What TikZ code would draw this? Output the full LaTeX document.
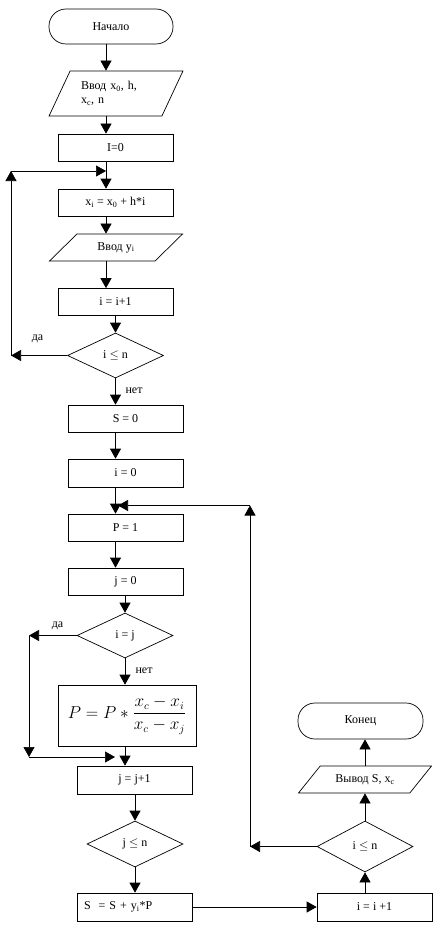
\documentclass[tikz,border=0pt]{standalone}
\usepackage{amsmath}
\usepackage{fontspec}
\setmainfont{Liberation Serif}
\usetikzlibrary{arrows.meta,shapes.geometric}

\begin{document}
\begin{tikzpicture}[x=1pt,y=-1pt,line width=0.7pt,font=\fontsize{12}{14}\selectfont]
					\tikzstyle{term}=[draw,rectangle,rounded corners=17pt,minimum width=124pt,minimum height=35pt,inner sep=2pt]
					\tikzstyle{block}=[draw,rectangle,minimum width=115pt,minimum height=27pt,inner sep=2pt]
					\tikzstyle{io}=[draw,trapezium,trapezium left angle=45,trapezium right angle=135,trapezium stretches=true,minimum width=134pt,minimum height=27pt,inner sep=2pt]
					\tikzstyle{cond}=[draw,diamond,aspect=2,minimum width=96pt,minimum height=45pt,inner sep=0pt]
					\tikzstyle{arr}=[-{Triangle[length=10pt,width=11pt]}]
					\tikzstyle{lbl}=[inner sep=0pt]
					\useasboundingbox (0,0) rectangle (439,931);
					\node[term] (1) at (111,26.5) {Начало};
					\node[io,trapezium left angle=59,trapezium right angle=121,minimum height=45pt,text width=70pt,align=left] (2) at (116,93.5) {Ввод x\textsubscript{0}, h,\\x\textsubscript{c}, n};
					\node[block] (3) at (115.5,147.5) {I=0};
					\node[block] (4) at (115.5,202.5) {x\textsubscript{i} = x\textsubscript{0} + h*i};
					\node[io] (5) at (116,247.5) {Ввод y\textsubscript{i}};
					\node[block] (6) at (115.5,302) {i = i+1};
					\node[cond] (7) at (115.5,355.5) {i $\le$ n};
					\node[block] (8) at (125.5,418.5) {S = 0};
					\node[block,minimum height=28pt] (9) at (125.5,473) {i = 0};
					\node[block] (10) at (125.5,527.5) {P = 1};
					\node[block] (11) at (125.5,581.5) {j = 0};
					\node[cond] (12) at (125,635.5) {i = j};
					\node[block,minimum width=138pt,minimum height=61pt] (13) at (127,715.5) {\fontsize{16}{19}\selectfont $P = P*\dfrac{x_c - x_i}{x_c - x_j}$};
					\node[block,minimum height=28pt] (14) at (134.5,780) {j = j+1};
					\node[cond,minimum height=46pt] (15) at (135,844) {j $\le$ n};
					\node[block,minimum height=28pt,text width=101pt,align=left] (16) at (134.5,907) {S\ \ = S + y\textsubscript{i}*P};
					\node[block,minimum height=28pt] (17) at (374.5,907) {i = i +1};
					\node[cond,minimum height=51pt] (18) at (365,846.5) {i $\le$ n};
					\node[io,trapezium left angle=43,trapezium right angle=137] (19) at (365,779.5) {Вывод S, x\textsubscript{c}};
					\node[term,minimum width=125pt,minimum height=36pt] (20) at (360.5,721) {Конец};
					\node[lbl] (21) at (37.5,338.5) {да};
					\node[lbl] (22) at (134,391) {нет};
					\node[lbl] (23) at (57.5,626) {да};
					\node[lbl] (24) at (144,671) {нет};
					\coordinate (a) at (106,0);
					\coordinate (c) at (125,0);
					\coordinate (p1) at (11,355.5);
					\coordinate (p2) at (11,171);
					\coordinate (p3) at (106,171);
					\coordinate (q1) at (29,635.5);
					\coordinate (q2) at (29,757);
					\coordinate (q3) at (115,757);
					\coordinate (r1) at (250,846.5);
					\coordinate (r2) at (250,505.5);
					\coordinate (r3) at (118,505.5);
					\draw[arr] (1.south -| a) -- (2.north -| a);
					\draw[arr] (2.south -| a) -- (3.north -| a);
					\draw[arr] (3.south -| a) -- (4.north -| a);
					\draw[arr] (4.south -| a) -- (5.north -| a);
					\draw[arr] (5.south -| a) -- (6.north -| a);
					\draw[arr] (6.south -| 7.north) -- (7.north);
					\draw[arr] (7.south) -- (8.north -| 7.south);
					\draw[arr] (8.south -| 7.south) -- (9.north -| 7.south);
					\draw[arr] (9.south -| 7.south) -- (10.north -| 7.south);
					\draw[arr] (10.south -| 7.south) -- (11.north -| 7.south);
					\draw[arr] (11.south -| 12.north) -- (12.north);
					\draw[arr] (12.south) -- (13.north -| 12.south);
					\draw[arr] (13.south -| c) -- (14.north -| c);
					\draw[arr] (14.south -| 15.north) -- (15.north);
					\draw[arr] (15.south) -- (16.north -| 15.south);
					\draw[arr] (16.east) -- (17.west);
					\draw[arr] (17.north -| 18.south) -- (18.south);
					\draw[arr] (18.north) -- (19.south -| 18.north);
					\draw[arr] (19.north -| 18.north) -- (20.south -| 18.north);
					\draw[arr] (7.west) -- (p1);
					\draw[arr] (p1) -- (p2);
					\draw[arr] (p2) -- (p3);
					\draw[arr] (12.west) -- (q1);
					\draw[arr] (q1) -- (q2);
					\draw[arr] (q2) -- (q3);
					\draw[arr] (18.west) -- (r1);
					\draw[arr] (r1) -- (r2);
					\draw[arr] (r2) -- (r3);
					\end{tikzpicture}
\end{document}
